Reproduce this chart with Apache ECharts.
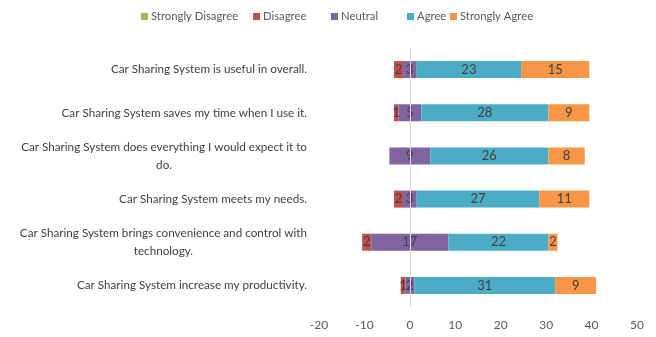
<!DOCTYPE html>
<html><head><meta charset="utf-8">
<script src="https://cdn.jsdelivr.net/npm/echarts@6/dist/echarts.min.js"></script>
<style>html,body{margin:0;padding:0;background:#fff}#c{width:656px;height:337px}</style>
</head><body><div id="c"></div>
<script>
const categories = [
  "Car Sharing System is useful in overall.",
  "Car Sharing System saves my time when I use it.",
  "Car Sharing System does everything I would expect it to\ndo.",
  "Car Sharing System meets my needs.",
  "Car Sharing System brings convenience and control with\ntechnology.",
  "Car Sharing System increase my productivity."
];
const seriesNames = ['Strongly Disagree', 'Disagree', 'Neutral', 'Agree', 'Strongly Agree'];
const stronglyDisagree = [0, 0, 0, 0, 0, 0];
const disagree = [2, 1, 0, 2, 2, 1];
const neutral = [3, 5, 9, 3, 17, 2];
const agree = [23, 28, 26, 27, 22, 31];
const stronglyAgree = [15, 9, 8, 11, 2, 9];
const xTicks = [-20, -10, 0, 10, 20, 30, 40, 50];

const offset = categories.map((_, i) => -(stronglyDisagree[i] + disagree[i] + neutral[i] / 2));
const FONT = 'Lato';
const lbl = {show: true, position: 'inside', color: '#404040', fontSize: 13, fontFamily: FONT,
  formatter: p => p.value ? p.value : ''};
function s(name, data, color, extra) {
  return Object.assign({name, type: 'bar', stack: 'a', stackStrategy: 'all', data, barWidth: 17,
    itemStyle: {color}, label: lbl}, extra || {});
}
const legendLefts = [141, 253, 331, 407, 450];
const legends = seriesNames.map((n, i) => ({
  data: [n], top: 11, left: legendLefts[i], itemWidth: 7, itemHeight: 7, icon: 'rect',
  padding: 0, textStyle: {color: '#595959', fontSize: 11.3, fontFamily: FONT, padding: [0, 0, 0, -2]}
}));
const chart = echarts.init(document.getElementById('c'), null, {renderer: 'canvas'});
chart.setOption({
  animation: false,
  legend: legends,
  grid: {left: 319, right: 19, top: 48, bottom: 30, containLabel: false},
  xAxis: {
    type: 'value', min: xTicks[0], max: xTicks[xTicks.length - 1], interval: 10,
    axisLine: {show: false}, axisTick: {show: false}, splitLine: {show: false},
    axisLabel: {color: '#595959', fontSize: 12, fontFamily: FONT, margin: 12}
  },
  yAxis: {
    type: 'category', data: categories, inverse: true,
    axisLine: {show: false}, axisTick: {show: false},
    axisLabel: {
      color: '#404040', fontSize: 11.7, fontFamily: FONT, margin: 12, align: 'right',
      formatter: v => v.split('\n').map(l => '{c|' + l + '}').join('\n'),
      rich: {c: {align: 'center', color: '#404040', fontSize: 11.7, fontFamily: FONT, lineHeight: 18}}
    }
  },
  series: [
    s('offset', offset, 'transparent', {label: {show: false}, silent: true, legendHoverLink: false}),
    s(seriesNames[0], stronglyDisagree, '#9bbb59'),
    s(seriesNames[1], disagree, '#c0504d'),
    s(seriesNames[2], neutral, '#8064a2'),
    s(seriesNames[3], agree, '#4bacc6'),
    s(seriesNames[4], stronglyAgree, '#f79646', {
      markLine: {silent: true, symbol: 'none', label: {show: false},
        lineStyle: {color: '#d9d9d9', type: 'solid', width: 1}, z: 10,
        data: [{xAxis: 0}]}
    })
  ]
});
</script></body></html>
